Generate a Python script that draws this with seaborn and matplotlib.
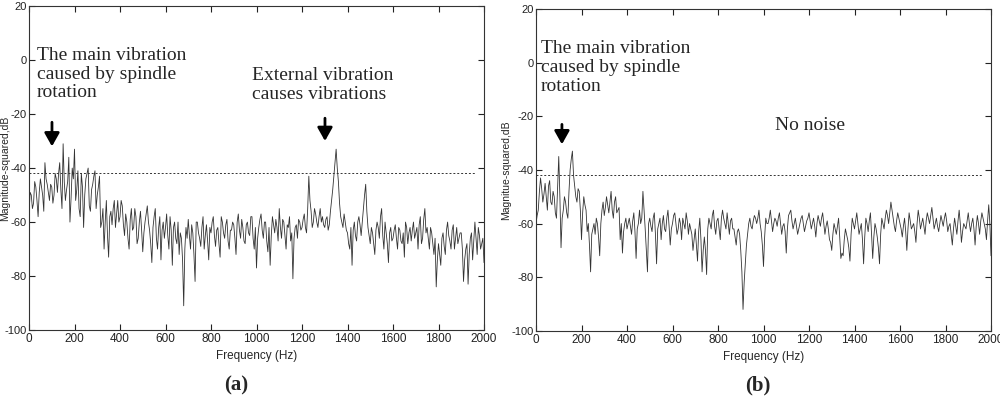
import numpy as np
import pandas as pd
import matplotlib
matplotlib.use('Agg')
import matplotlib.pyplot as plt
import seaborn as sns

# spectra: one set of values on the 10 Hz grid,
# one set on the in-between 5 Hz offsets
freq_hz = list(range(0, 2001, 10))
freq_half_hz = list(range(5, 2000, 10))

mag_a = [
    -57, -50, -53, -47, -58, -44, -50, -38, -46, -52,
    -47, -50, -44, -42, -48, -31, -52, -45, -60, -40,
    -33, -48, -55, -42, -62, -44, -40, -56, -46, -41,
    -50, -43, -60, -70, -52, -73, -56, -55, -62, -52,
    -58, -54, -65, -60, -70, -55, -62, -58, -66, -56,
    -71, -60, -54, -63, -75, -58, -66, -62, -74, -60,
    -62, -65, -58, -76, -60, -68, -72, -66, -91, -62,
    -59, -70, -64, -82, -60, -66, -62, -70, -61, -74,
    -64, -58, -69, -62, -73, -60, -66, -59, -70, -63,
    -61, -72, -57, -66, -62, -68, -60, -65, -58, -70,
    -77, -62, -57, -66, -60, -71, -76, -58, -64, -62,
    -55, -66, -60, -70, -62, -67, -81, -62, -66, -60,
    -62, -57, -64, -43, -56, -60, -57, -62, -55, -58,
    -62, -58, -61, -52, -43, -33, -45, -58, -62, -60,
    -64, -70, -76, -60, -67, -58, -65, -55, -46, -62,
    -68, -64, -72, -60, -66, -55, -70, -64, -75, -62,
    -66, -61, -70, -63, -68, -73, -62, -64, -67, -60,
    -64, -70, -58, -66, -55, -62, -70, -64, -72, -84,
    -68, -76, -64, -72, -60, -67, -63, -70, -62, -66,
    -64, -82, -70, -83, -66, -74, -60, -72, -65, -68,
    -75,
]
mag_a_half = [
    -49, -55, -45, -52, -49, -47, -56, -44, -49, -46,
    -53, -42, -49, -38, -55, -45, -48, -36, -51, -44,
    -52, -41, -58, -47, -50, -42, -54, -48, -43, -55,
    -47, -62, -55, -60, -65, -58, -61, -52, -57, -60,
    -52, -61, -57, -66, -59, -63, -55, -68, -60, -63,
    -64, -57, -60, -68, -62, -55, -70, -58, -63, -66,
    -57, -70, -63, -62, -66, -60, -64, -74, -70, -66,
    -65, -61, -72, -60, -64, -69, -58, -65, -67, -62,
    -60, -65, -63, -68, -58, -64, -61, -67, -63, -60,
    -66, -60, -63, -59, -67, -61, -64, -58, -66, -62,
    -66, -59, -63, -60, -67, -62, -65, -61, -59, -67,
    -62, -59, -65, -61, -58, -64, -66, -61, -59, -63,
    -59, -62, -55, -52, -62, -55, -60, -58, -60, -61,
    -59, -63, -56, -48, -38, -40, -53, -60, -57, -63,
    -68, -62, -63, -65, -60, -61, -60, -50, -56, -65,
    -62, -68, -63, -62, -58, -65, -60, -68, -64, -67,
    -63, -66, -62, -67, -64, -60, -68, -62, -63, -66,
    -62, -61, -68, -59, -64, -66, -62, -68, -66, -74,
    -72, -66, -69, -63, -65, -70, -61, -66, -68, -64,
    -70, -74, -68, -72, -64, -67, -66, -62, -70, -66,
]

mag_b = [
    -60, -55, -43, -52, -45, -55, -44, -53, -50, -58,
    -35, -69, -55, -52, -58, -40, -33, -46, -52, -48,
    -66, -50, -55, -60, -78, -62, -64, -60, -72, -55,
    -57, -50, -56, -48, -58, -50, -55, -66, -71, -60,
    -62, -58, -64, -56, -73, -60, -60, -48, -62, -78,
    -58, -63, -56, -75, -60, -66, -57, -63, -55, -68,
    -60, -56, -64, -58, -66, -60, -56, -64, -62, -70,
    -62, -74, -58, -78, -65, -79, -58, -62, -55, -64,
    -58, -66, -55, -60, -56, -64, -58, -62, -68, -62,
    -70, -92, -75, -64, -58, -62, -57, -60, -55, -63,
    -76, -58, -60, -55, -63, -58, -61, -56, -64, -60,
    -71, -57, -55, -62, -58, -64, -60, -57, -63, -59,
    -56, -62, -58, -65, -57, -61, -56, -64, -59, -66,
    -70, -60, -64, -58, -73, -72, -62, -66, -74, -58,
    -62, -56, -64, -60, -75, -58, -63, -56, -73, -60,
    -65, -75, -58, -62, -55, -60, -52, -58, -63, -56,
    -60, -65, -58, -70, -56, -62, -60, -67, -55, -62,
    -58, -64, -56, -60, -54, -62, -58, -63, -57, -61,
    -56, -63, -60, -68, -58, -64, -55, -67, -60, -62,
    -56, -63, -58, -68, -57, -64, -56, -60, -66, -53,
    -72,
]
mag_b_half = [
    -57, -48, -47, -49, -50, -46, -52, -48, -56, -46,
    -50, -58, -50, -56, -48, -36, -42, -50, -47, -55,
    -56, -53, -63, -68, -64, -60, -58, -65, -60, -52,
    -54, -53, -52, -55, -52, -56, -54, -60, -63, -58,
    -60, -61, -59, -63, -62, -55, -58, -55, -70, -60,
    -61, -58, -64, -62, -58, -60, -62, -58, -61, -62,
    -57, -60, -62, -60, -58, -62, -59, -60, -64, -66,
    -68, -63, -66, -70, -70, -62, -60, -57, -61, -59,
    -62, -58, -58, -62, -60, -59, -62, -65, -63, -64,
    -78, -82, -68, -60, -61, -59, -58, -58, -60, -68,
    -65, -60, -58, -59, -60, -59, -58, -60, -61, -63,
    -62, -56, -59, -60, -61, -62, -58, -60, -61, -58,
    -59, -60, -61, -60, -59, -58, -60, -61, -62, -67,
    -64, -62, -61, -65, -71, -66, -64, -69, -64, -60,
    -59, -60, -62, -66, -65, -60, -59, -64, -65, -62,
    -69, -64, -60, -58, -57, -56, -55, -61, -59, -58,
    -62, -61, -63, -62, -59, -61, -63, -60, -58, -60,
    -61, -59, -58, -57, -58, -60, -61, -60, -59, -58,
    -59, -61, -64, -62, -61, -59, -60, -63, -61, -59,
    -60, -60, -62, -61, -60, -59, -58, -62, -59, -60,
]

ref_level = [-42, -42]
ylabels = ['Magnitude-squared,dB', 'Magnitue-squared,dB']
panel_tags = ['(a)', '(b)']

sns.set_style('ticks')
plt.rcParams['font.family'] = ['Liberation Sans Narrow', 'Liberation Sans', 'DejaVu Sans']
plt.rcParams['axes.unicode_minus'] = False
serif = ['Liberation Serif', 'DejaVu Serif']

fig = plt.figure(figsize=(10, 4.05), dpi=100)
ax_a = fig.add_axes([0.029, 0.185, 0.455, 0.800])
ax_b = fig.add_axes([0.536, 0.183, 0.455, 0.795])

panels = [(ax_a, mag_a, mag_a_half, -0.052), (ax_b, mag_b, mag_b_half, -0.065)]
for (ax, mag, mag_half, ylab_x), ylab, ref in zip(panels, ylabels, ref_level):
    df = pd.DataFrame({'freq': freq_hz + freq_half_hz, 'mag': mag + mag_half})
    sns.lineplot(data=df, x='freq', y='mag', ax=ax, color='#333333',
                 linewidth=0.6, estimator=None, sort=True)
    ax.hlines(ref, 0, 1960, colors='#333333', linestyles=(0, (2, 2)), linewidth=0.7)
    ax.set_xlim(0, 2000)
    ax.set_ylim(-100, 20)
    ax.set_xticks(range(0, 2001, 200))
    ax.set_yticks(range(-100, 21, 20))
    ax.tick_params(direction='in', top=True, right=True, length=4, width=0.8,
                   pad=2, colors='#222222')
    ax.tick_params(axis='x', labelsize=8.5)
    ax.tick_params(axis='y', labelsize=8, pad=1.5)
    for s in ax.spines.values():
        s.set_visible(True)
        s.set_color('#333333')
        s.set_linewidth(0.8)
    ax.set_xlabel('Frequency (Hz)', fontsize=8.5, labelpad=4)
    ax.set_ylabel(ylab, fontsize=7.5, va='center')
    ax.yaxis.set_label_coords(ylab_x, 0.5)

arrow = dict(arrowstyle='-|>,head_width=0.45,head_length=0.8', color='black', lw=2)

# panel (a) annotations
ax_a.text(35, 5, 'The main vibration\ncaused by spindle\nrotation',
          family=serif, fontsize=14, va='top', ha='left', linespacing=1.15)
ax_a.text(980, -2.5, 'External vibration\ncauses vibrations',
          family=serif, fontsize=14, va='top', ha='left', linespacing=1.15)
ax_a.annotate('', xy=(101, -33), xytext=(101, -22), arrowprops=arrow)
ax_a.annotate('', xy=(1301, -31), xytext=(1301, -20.5), arrowprops=arrow)

# panel (b) annotations
ax_b.text(21, 8.5, 'The main vibration\ncaused by spindle\nrotation',
          family=serif, fontsize=14, va='top', ha='left', linespacing=1.15)
ax_b.text(1051, -23.5, 'No noise', family=serif, fontsize=14, va='center', ha='left')
ax_b.annotate('', xy=(114, -31.5), xytext=(114, -22), arrowprops=arrow)

fig.text(0.236, 0.048, panel_tags[0], family=serif, fontsize=15, fontweight='bold',
         ha='center', va='center')
fig.text(0.758, 0.048, panel_tags[1], family=serif, fontsize=15, fontweight='bold',
         ha='center', va='center')

fig.savefig('out.png', dpi=100)
